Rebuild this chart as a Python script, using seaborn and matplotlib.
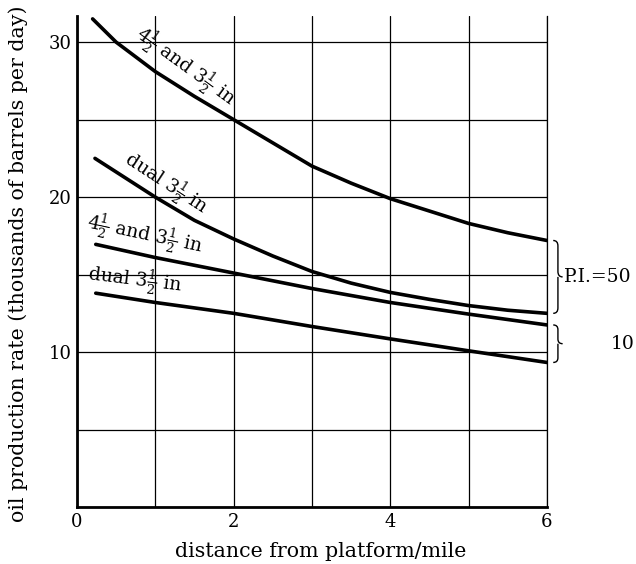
import matplotlib
matplotlib.use("Agg")
import matplotlib.pyplot as plt
from matplotlib.path import Path
from matplotlib.patches import PathPatch
import seaborn as sns
import pandas as pd

# ---- data ----
x_a = [0.2, 0.5, 1, 1.5, 2, 2.5, 3, 3.5, 4, 4.5, 5, 5.5, 6]
pi50_45_35 = [31.5, 30.0, 28.1, 26.5, 25.0, 23.5, 22.0, 20.9, 19.9, 19.1, 18.3, 17.7, 17.2]
x_b = [0.23, 1, 1.5, 2, 2.5, 3, 3.5, 4, 4.5, 5, 5.5, 6]
pi50_dual35 = [22.5, 20.0, 18.5, 17.3, 16.2, 15.2, 14.45, 13.85, 13.4, 13.0, 12.7, 12.5]
x_cd = [0.24, 1, 2, 3, 4, 5, 6]
pi10_45_35 = [16.95, 16.1, 15.1, 14.1, 13.2, 12.45, 11.75]
pi10_dual35 = [13.8, 13.2, 12.5, 11.65, 10.85, 10.08, 9.33]

series_names = ["pi50_45", "pi50_dual", "pi10_45", "pi10_dual"]
series_x = [x_a, x_b, x_cd, x_cd]
series_vals = [pi50_45_35, pi50_dual35, pi10_45_35, pi10_dual35]
curve_labels = [r"$4\frac{1}{2}$ and $3\frac{1}{2}$ in", r"dual $3\frac{1}{2}$ in",
                r"$4\frac{1}{2}$ and $3\frac{1}{2}$ in", r"dual $3\frac{1}{2}$ in"]

x_ticks = [0, 1, 2, 3, 4, 5, 6]
x_ticklabels = ["0", "", "2", "", "4", "", "6"]
y_ticks = [0, 5, 10, 15, 20, 25, 30]
y_ticklabels = ["", "", "10", "", "20", "", "30"]

rows = []
for name, xs, vals in zip(series_names, series_x, series_vals):
    for xv, yv in zip(xs, vals):
        rows.append({"x": xv, "y": yv, "series": name})
df = pd.DataFrame(rows)

sns.set_style("white")
plt.rcParams["font.family"] = ["DejaVu Serif"]
plt.rcParams["mathtext.fontset"] = "dejavuserif"
plt.rcParams["text.color"] = "black"
plt.rcParams["axes.labelcolor"] = "black"
plt.rcParams["xtick.color"] = "black"
plt.rcParams["ytick.color"] = "black"

fig = plt.figure(figsize=(6.36, 5.64), dpi=100)
ax = fig.add_axes([0.121, 0.101, 0.739, 0.871])

sns.lineplot(data=df, x="x", y="y", hue="series", sort=False,
             palette={n: "black" for n in series_names}, linewidth=2.6,
             legend=False, ax=ax, zorder=3)

ax.set_xlim(0, 6)
ax.set_ylim(0, 31.7)
ax.set_xticks(x_ticks)
ax.set_xticklabels(x_ticklabels, fontsize=13, color="black")
ax.set_yticks(y_ticks)
ax.set_yticklabels(y_ticklabels, fontsize=13, color="black")
ax.tick_params(length=0, pad=4)
ax.grid(True, color="black", linewidth=0.9)
ax.spines["top"].set_visible(False)
ax.spines["right"].set_linewidth(0.9)
ax.spines["right"].set_color("black")
for s in ["left", "bottom"]:
    ax.spines[s].set_linewidth(2.0)
    ax.spines[s].set_color("black")

ax.set_xlabel("distance from platform/mile", fontsize=14.8, va="top", color="black")
ax.xaxis.set_label_coords(0.519, -0.072)
ax.set_ylabel("oil production rate (thousands of barrels per day)", fontsize=14.8,
              color="black")
ax.yaxis.set_label_coords(-0.104, 0.495)

# curve labels (position / rotation)
label_pos = [(1.39, 28.4, -36), (1.14, 20.9, -33), (0.86, 17.6, -12), (0.745, 14.65, -7)]
for txt, (lx, ly, rot) in zip(curve_labels, label_pos):
    ax.text(lx, ly, txt, fontsize=13.5, rotation=rot, rotation_mode="anchor",
            ha="center", va="center", zorder=4, color="black")

# curly braces grouping the P.I. curves
def brace(ax, x0, ytop, ybot, w, q):
    ym = (ytop + ybot) / 2
    xm = x0 + w / 2
    verts = [(x0, ytop), (xm, ytop), (xm, ytop - q),
             (xm, ym + q),
             (xm, ym), (x0 + w, ym),
             (xm, ym), (xm, ym - q),
             (xm, ybot + q),
             (xm, ybot), (x0, ybot)]
    codes = [Path.MOVETO, Path.CURVE3, Path.CURVE3,
             Path.LINETO,
             Path.CURVE3, Path.CURVE3,
             Path.MOVETO, Path.CURVE3,
             Path.LINETO,
             Path.CURVE3, Path.CURVE3]
    patch = PathPatch(Path(verts, codes), fill=False, lw=1.0, color="black",
                      clip_on=False)
    ax.add_patch(patch)

brace(ax, 6.08, pi50_45_35[-1], pi50_dual35[-1], 0.12, 0.35)
brace(ax, 6.08, pi10_45_35[-1], pi10_dual35[-1], 0.12, 0.3)

ax.text(6.22, (pi50_45_35[-1] + pi50_dual35[-1]) / 2, "P.I.=50", fontsize=13.5,
        ha="left", va="center", clip_on=False, color="black")
ax.text(6.97, (pi10_45_35[-1] + pi10_dual35[-1]) / 2, "10", fontsize=13.5,
        ha="center", va="center", clip_on=False, color="black")

fig.savefig("out.png", dpi=100)
